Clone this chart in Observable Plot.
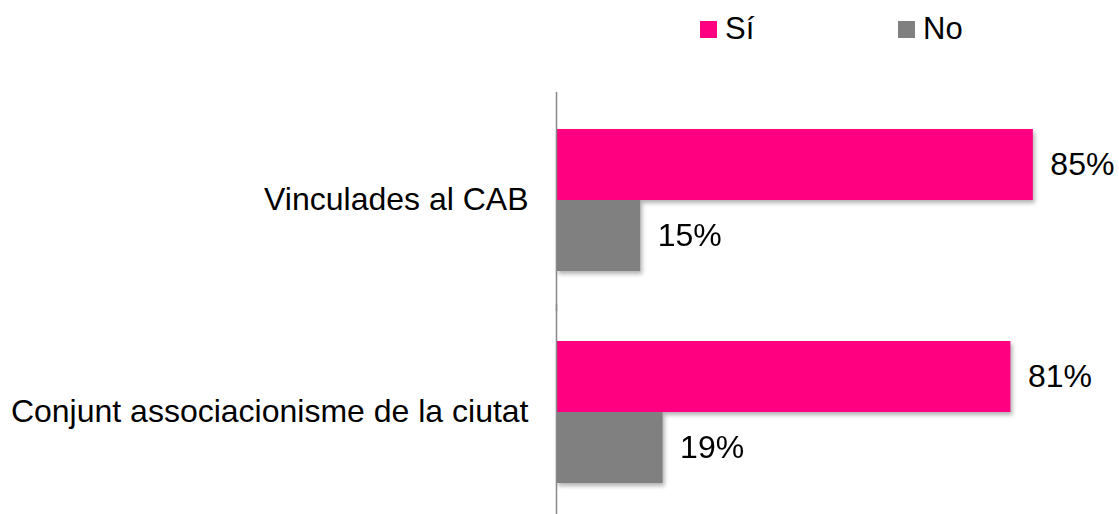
<!DOCTYPE html>
<html>
<head>
<meta charset="utf-8">
<script src="https://cdn.jsdelivr.net/npm/d3@7"></script>
<script src="https://cdn.jsdelivr.net/npm/@observablehq/plot@0.6"></script>
<style>
  html, body { margin: 0; padding: 0; background: #fff; overflow: hidden; }
  body { width: 1119px; height: 514px; font-family: "Liberation Sans", Arial, sans-serif; }
  #legend { position: relative; height: 56px; width: 1119px; }
  .sw { position: absolute; top: 21px; width: 17px; height: 17px; }
  .lt { position: absolute; top: 13px; font-size: 31px; line-height: 32px; color: #000; }
</style>
</head>
<body>
<div id="legend"></div>
<div id="chart"></div>
<script>
const categories = ["Vinculades al CAB", "Conjunt associacionisme de la ciutat"];
const series = ["Sí", "No"];
const siValues = [85, 81];
const noValues = [15, 19];
const colors = ["#FF0080", "#808080"];

const data = [];
categories.forEach((c, i) => {
  data.push({category: c, series: "Sí", value: siValues[i]});
  data.push({category: c, series: "No", value: noValues[i]});
});

// legend
const legend = document.getElementById("legend");
const legendPos = [{sw: 700, tx: 725}, {sw: 898, tx: 923}];
series.forEach((s, i) => {
  const sw = document.createElement("div");
  sw.className = "sw";
  sw.style.left = legendPos[i].sw + "px";
  sw.style.background = colors[i];
  legend.appendChild(sw);
  const t = document.createElement("div");
  t.className = "lt";
  t.style.left = legendPos[i].tx + "px";
  t.textContent = s;
  legend.appendChild(t);
});

const chart = Plot.plot({
  width: 1119,
  height: 458,
  marginLeft: 556,
  marginRight: 2,
  marginTop: 40,
  marginBottom: 0,
  style: {fontSize: "32px", fontFamily: "'Liberation Sans', Arial, sans-serif", color: "#000", background: "#fff", overflow: "visible"},
  x: {domain: [0, 100], axis: null},
  y: {domain: series, axis: null, padding: 0},
  fy: {domain: categories, axis: "left", label: null, tickSize: 0, tickPadding: 28, paddingInner: 0.327, paddingOuter: 0.145},
  color: {domain: series, range: colors},
  facet: {data, y: "category"},
  marks: [
    Plot.barX(data, {x: "value", y: "series", fill: "series"}),
    Plot.text(data, {x: "value", y: "series", text: d => d.value + "%", dx: 17, textAnchor: "start", fill: "#000", fontSize: 32}),
    Plot.ruleX([0], {stroke: "#888", strokeWidth: 1.5, insetTop: -36, insetBottom: -40})
  ]
});
document.getElementById("chart").appendChild(chart);
chart.querySelectorAll("g[aria-label='bar']").forEach(g => {
  g.style.filter = "drop-shadow(2px 3px 2px rgba(0,0,0,0.3))";
});
</script>
</body>
</html>
